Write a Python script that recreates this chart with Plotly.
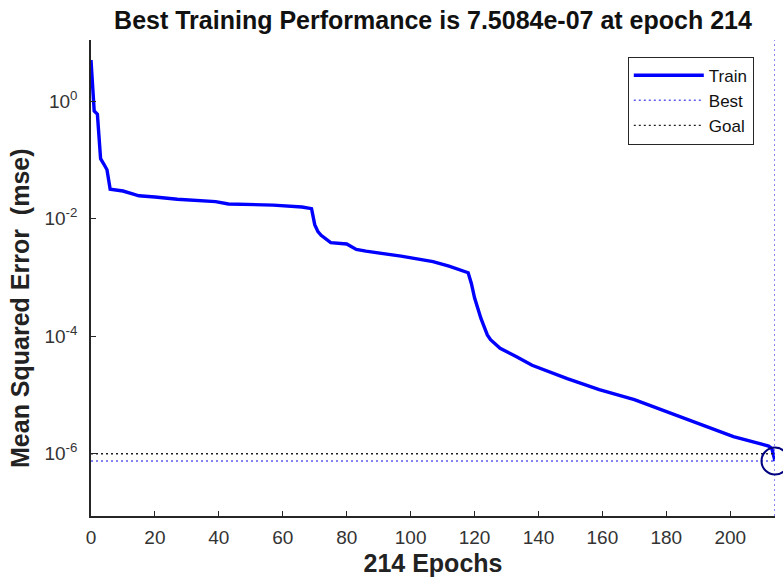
import plotly.graph_objects as go

# ---- data ----
epochs = [0, 1, 2, 3, 4, 5, 6, 10, 13, 15, 20, 27, 39, 43, 57, 66, 69, 70, 71, 72,
          75, 80, 83, 86, 97, 107, 112, 118, 119, 120, 122, 124, 125, 128, 133, 138,
          149, 159, 170, 180, 190, 201, 212, 213, 214]
train_mse = [5.0, 0.68, 0.60, 0.105, 0.085, 0.068, 0.0316, 0.0295, 0.0263, 0.0245,
             0.0234, 0.0214, 0.0195, 0.0178, 0.0170, 0.0158, 0.0148, 0.0079, 0.0060,
             0.0052, 0.0039, 0.0037, 0.0030, 0.0028, 0.0023, 0.00186, 0.00155, 0.0012,
             7.9e-4, 4.5e-4, 2.0e-4, 1.05e-4, 8.7e-5, 6.2e-5, 4.5e-5, 3.2e-5, 1.9e-5,
             1.23e-5, 8.3e-6, 5.2e-6, 3.2e-6, 1.95e-6, 1.35e-6, 1.23e-6, 7.5084e-7]
best_epoch = 214
best_perf = 7.5084e-07
goal = 1e-6
x_max = 214
y_min, y_max = 1e-7 / 1.15, 11.0

x_tickvals = [0, 20, 40, 60, 80, 100, 120, 140, 160, 180, 200]
y_tickvals = [1e0, 1e-2, 1e-4, 1e-6]
y_ticktext = ["10<sup>0</sup>", "10<sup>-2</sup>", "10<sup>-4</sup>", "10<sup>-6</sup>"]

title_text = "Best Training Performance is 7.5084e-07 at epoch 214"
x_title = "214 Epochs"
y_title = "Mean Squared Error  (mse)"

FONT = "Liberation Sans, Arial, sans-serif"
AX = "#262626"

fig = go.Figure()
fig.add_trace(go.Scatter(x=epochs, y=train_mse, mode="lines", name="Train",
                         line=dict(color="#0000ff", width=3.4)))
fig.add_trace(go.Scatter(x=[0, x_max], y=[best_perf, best_perf], mode="lines",
                         name="Best", line=dict(color="#5a5af0", width=1.4, dash="2px,3px")))
fig.add_trace(go.Scatter(x=[0, x_max], y=[goal, goal], mode="lines", name="Goal",
                         line=dict(color="#202020", width=1.4, dash="2px,3px")))
fig.add_trace(go.Scatter(x=[best_epoch, best_epoch], y=[y_min, y_max], mode="lines",
                         showlegend=False, line=dict(color="#5a5af0", width=1.4, dash="2px,3px")))
fig.add_trace(go.Scatter(x=[best_epoch], y=[best_perf], mode="markers", showlegend=False,
                         cliponaxis=False,
                         marker=dict(symbol="circle-open", size=27, color="#000080",
                                     line=dict(width=2, color="#000080"))))

fig.update_layout(
    width=783, height=577,
    margin=dict(l=91, r=8, t=40, b=61, autoexpand=False),
    paper_bgcolor="white", plot_bgcolor="white",
    font=dict(family=FONT, color=AX),
    title=dict(text="<b>" + title_text + "</b>", x=(91 + 775) / 2 / 783, xanchor="center",
               y=1 - 20 / 577, yanchor="middle", font=dict(size=25, color="#111111")),
    showlegend=True,
    legend=dict(x=0.969, y=0.965, xanchor="right", yanchor="top",
                bordercolor=AX, borderwidth=1, bgcolor="white",
                font=dict(size=17, color="#111111"), tracegroupgap=0,
                itemwidth=70),
    annotations=[dict(text="<b>" + y_title + "</b>", textangle=-90,
                      xref="paper", yref="paper", x=-71 / 684, y=(516 - 308) / 476,
                      xanchor="center", yanchor="middle", showarrow=False,
                      font=dict(size=25, color="#222222"))],
)
fig.update_xaxes(range=[0, x_max], tickvals=x_tickvals, ticks="inside", ticklen=5,
                 tickcolor=AX, showline=True, linecolor=AX, linewidth=1.5,
                 showgrid=False, zeroline=False, mirror=False, automargin=False,
                 ticklabelstandoff=3,
                 tickfont=dict(size=19, color="#333333"),
                 title=dict(text="<b>" + x_title + "</b>", font=dict(size=25, color="#222222"),
                            standoff=12))
fig.update_yaxes(type="log", range=[-7.06, 1.04], tickvals=y_tickvals, ticktext=y_ticktext,
                 ticks="inside", ticklen=5, tickcolor=AX, showline=True, linecolor=AX,
                 linewidth=1.5, showgrid=False, zeroline=False, mirror=False, automargin=False,
                 ticklabelstandoff=8,
                 tickfont=dict(size=19, color="#333333"))

fig.write_html("out.html", config={"displayModeBar": False},
               post_script="document.body.style.margin='0';")
